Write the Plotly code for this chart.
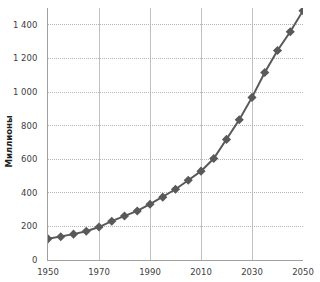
import plotly.graph_objects as go

years = [1950, 1955, 1960, 1965, 1970, 1975, 1980, 1985, 1990, 1995, 2000,
         2005, 2010, 2015, 2020, 2025, 2030, 2035, 2040, 2045, 2050]
values = [126, 138, 154, 171, 196, 231, 262, 292, 332, 374, 421,
          475, 529, 604, 718, 835, 968, 1116, 1247, 1359, 1484]

x_ticks = [1950, 1970, 1990, 2010, 2030, 2050]
y_ticks = [0, 200, 400, 600, 800, 1000, 1200, 1400]
y_title = "Миллионы"

fig = go.Figure()
fig.add_trace(go.Scatter(
    x=years, y=values, mode="lines+markers",
    line=dict(color="#595959", width=2),
    marker=dict(symbol="diamond", size=7, color="#595959"),
    showlegend=False,
))

fig.add_annotation(
    text="<b>" + y_title + "</b>", textangle=-90,
    xref="paper", yref="paper", x=-0.153, y=0.47,
    xanchor="center", yanchor="middle", showarrow=False,
    font=dict(family="DejaVu Sans", size=8.5, color="#202020"),
)

fig.update_layout(
    width=320, height=282,
    margin=dict(l=48, r=17, t=8, b=22),
    paper_bgcolor="white", plot_bgcolor="white",
    separators=", ",
    font=dict(family="DejaVu Sans", size=8.5, color="#404040"),
    xaxis=dict(
        range=[1950, 2050], tickvals=x_ticks, ticks="", showgrid=True,
        gridcolor="#c0c0c0", gridwidth=1, showline=True, linecolor="#a0a0a0",
        zeroline=False, tickformat="d", ticklabelstandoff=4, automargin=False,
    ),
    yaxis=dict(
        range=[0, 1500], tickvals=y_ticks, ticks="", showgrid=True,
        gridcolor="#b4b4b4", griddash="1px,1px", gridwidth=1, showline=True,
        linecolor="#a0a0a0", zeroline=False, tickformat=",d",
        ticklabelstandoff=8, automargin=False,
    ),
)

fig.write_html("out.html")
